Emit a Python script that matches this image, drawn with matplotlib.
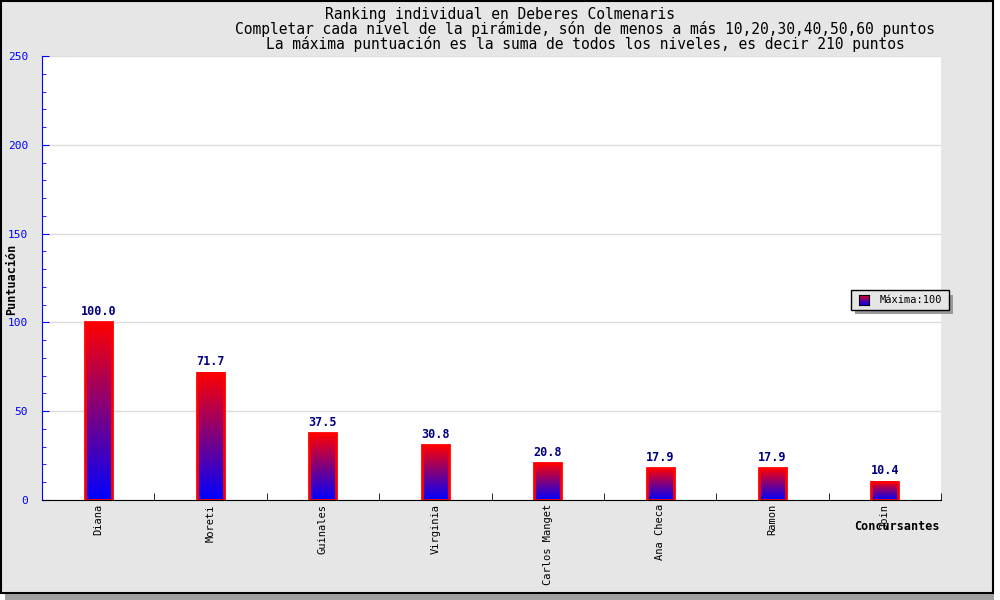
import numpy as np
import matplotlib.pyplot as plt
from matplotlib.patches import Rectangle
from matplotlib.ticker import MultipleLocator, FixedLocator, NullFormatter

nombres = ["Diana", "Moreti", "Guinales", "Virginia", "Carlos Manget",
           "Ana Checa", "Ramon", "Join"]
puntos = [100.0, 71.7, 37.5, 30.8, 20.8, 17.9, 17.9, 10.4]
etiquetas = ["100.0", "71.7", "37.5", "30.8", "20.8", "17.9", "17.9", "10.4"]

titulo1 = "Ranking individual en Deberes Colmenaris"
titulo2 = "Completar cada nivel de la pirámide, són de menos a más 10,20,30,40,50,60 puntos"
titulo3 = "La máxima puntuación es la suma de todos los niveles, es decir 210 puntos"

plt.rcParams['font.family'] = ['DejaVu Sans Mono']

fig = plt.figure(figsize=(10, 6), dpi=100, facecolor="white")

# marco gris con sombra
fig.patches.append(Rectangle((0.005, 0.0), 0.989, 0.988, transform=fig.transFigure,
                             facecolor="#a0a0a0", edgecolor="none", zorder=-2))
fig.patches.append(Rectangle((0.001, 0.012), 0.992, 0.986, transform=fig.transFigure,
                             facecolor="#e6e6e6", edgecolor="black", lw=1.5, zorder=-1))

ax = fig.add_axes([0.042, 0.1667, 0.899, 0.74])
ax.set_facecolor("white")

x = np.arange(len(nombres)) + 0.5
barras = ax.bar(x, puntos, width=0.24, facecolor="none", edgecolor="red", lw=2, zorder=3)

# degradado rojo arriba, azul abajo
grad = np.linspace(0, 1, 256).reshape(-1, 1)
cmap = plt.matplotlib.colors.LinearSegmentedColormap.from_list("rb", ["blue", "red"])
for b in barras:
    x0, w, h = b.get_x(), b.get_width(), b.get_height()
    ax.imshow(grad, cmap=cmap, aspect="auto", origin="lower",
              extent=(x0, x0 + w, 0, h), zorder=2)

for xi, v, t in zip(x, puntos, etiquetas):
    ax.annotate(t, (xi, v), xytext=(0, 3), textcoords="offset points",
                ha="center", va="bottom", color="#000080", fontsize=8.5,
                fontweight="bold")

ax.set_xlim(0, len(nombres))
ax.set_ylim(0, 250)

ax.yaxis.set_major_locator(MultipleLocator(50))
ax.yaxis.set_minor_locator(MultipleLocator(10))
ax.grid(axis="y", color="#dddddd", lw=1, zorder=0)
ax.tick_params(axis="y", which="both", direction="in", colors="blue",
               labelsize=8, pad=10)
ax.tick_params(axis="y", which="major", length=5)
ax.tick_params(axis="y", which="minor", length=3)

ax.xaxis.set_major_locator(FixedLocator(x))
ax.set_xticklabels(nombres, rotation=90, fontsize=7.5, fontfamily="DejaVu Sans Mono")
ax.xaxis.set_minor_locator(FixedLocator(np.arange(1, len(nombres) + 1)))
ax.xaxis.set_minor_formatter(NullFormatter())
ax.tick_params(axis="x", which="major", length=0, pad=3)
ax.tick_params(axis="x", which="minor", direction="in", length=5)

ax.spines["top"].set_visible(False)
ax.spines["right"].set_visible(False)
ax.spines["left"].set_color("blue")
ax.spines["bottom"].set_color("black")

fig.text(0.012, 0.535, "Puntuación", rotation=90, ha="center", va="center",
         fontsize=8.5, fontweight="bold")
fig.text(0.94, 0.123, "Concursantes", ha="right", va="center",
         fontsize=8.5, fontweight="bold")

fig.text(0.5, 0.975, titulo1, ha="center", va="center", fontsize=10.5)
fig.text(0.585, 0.951, titulo2, ha="center", va="center", fontsize=10.5)
fig.text(0.585, 0.926, titulo3, ha="center", va="center", fontsize=10.5)

# leyenda
lx, ly, lw_, lh = 0.851, 0.483, 0.098, 0.033
fig.patches.append(Rectangle((lx + 0.004, ly - 0.007), lw_, lh, transform=fig.transFigure,
                             facecolor="#999999", edgecolor="none", zorder=5))
fig.patches.append(Rectangle((lx, ly), lw_, lh, transform=fig.transFigure,
                             facecolor="#e6e6e6", edgecolor="black", lw=1, zorder=6))
lax = fig.add_axes([lx + 0.008, ly + 0.009, 0.01, 0.0167], zorder=7)
lax.imshow(grad, cmap=cmap, aspect="auto", origin="lower", extent=(0, 1, 0, 1))
lax.set_xticks([])
lax.set_yticks([])
for s in lax.spines.values():
    s.set_color("black")
fig.text(lx + 0.029, ly + lh / 2, "Máxima:100", ha="left", va="center",
         fontsize=7.5, zorder=8)

fig.savefig("out.png", dpi=100, facecolor=fig.get_facecolor())
